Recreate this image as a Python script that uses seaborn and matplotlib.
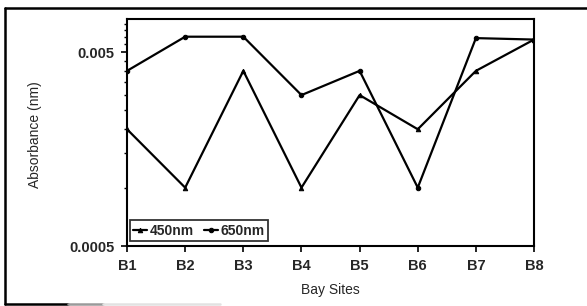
import matplotlib
matplotlib.use("Agg")
import matplotlib.pyplot as plt
import matplotlib.ticker as mticker
from matplotlib.lines import Line2D
import pandas as pd
import seaborn as sns

# values (log axis)
sites = ["B1", "B2", "B3", "B4", "B5", "B6", "B7", "B8"]
abs_450 = [0.0020, 0.0010, 0.0040, 0.0010, 0.0030, 0.0020, 0.0040, 0.0058]
abs_650 = [0.0040, 0.0060, 0.0060, 0.0030, 0.0040, 0.0010, 0.0059, 0.0058]
series_names = ["450nm", "650nm"]
y_major = [0.0005, 0.005]
y_major_labels = ["0.0005", "0.005"]

df = pd.DataFrame({
    "site": sites * 2,
    "pos": list(range(len(sites))) * 2,
    "absorbance": abs_450 + abs_650,
    "series": [series_names[0]] * len(sites) + [series_names[1]] * len(sites),
})

sns.set_style("white")
plt.rcParams["font.family"] = ["Liberation Sans", "DejaVu Sans"]

W, H = 587, 306
fig = plt.figure(figsize=(W / 100, H / 100), dpi=100)
ax = fig.add_axes([0.2164, 0.196, 0.6934, 0.7403])

sns.lineplot(data=df, x="pos", y="absorbance", hue="series", style="series",
             palette=["black", "black"], markers={"450nm": "^", "650nm": "o"},
             dashes=False, markersize=3.2, linewidth=1.6, ax=ax,
             markeredgecolor="black")

ax.set_yscale("log")
ax.set_ylim(0.0005, 0.00736)
ax.set_xlim(0, len(sites) - 1)
ax.yaxis.set_major_locator(mticker.FixedLocator(y_major))
ax.yaxis.set_major_formatter(mticker.FixedFormatter(y_major_labels))
ax.yaxis.set_minor_locator(mticker.FixedLocator([0.0005 * k for k in range(2, 15) if k != 10]))
ax.yaxis.set_minor_formatter(mticker.NullFormatter())
ax.set_xticks(range(len(sites)))
ax.set_xticklabels(sites)

for sp in ax.spines.values():
    sp.set_color("black")
    sp.set_linewidth(1.5)

ax.tick_params(axis="both", which="major", direction="out", length=4, width=1.2,
               color="black", labelsize=10.5, pad=5)
ax.tick_params(axis="y", which="minor", direction="out", length=2, width=1, color="black", left=True)
ax.tick_params(axis="x", bottom=True)
ax.tick_params(axis="y", left=True)
for lab in ax.get_xticklabels() + ax.get_yticklabels():
    lab.set_fontweight("bold")

ax.set_xlabel("Bay Sites", fontsize=10)
ax.set_ylabel("Absorbance (nm)", fontsize=10)
ax.xaxis.set_label_coords(0.5, -0.194)
ax.yaxis.set_label_coords(-0.226, 0.49)
ax.xaxis.label.set_va("center")
ax.yaxis.label.set_va("center")

leg = ax.legend(loc="lower left", bbox_to_anchor=(0.007, 0.022), borderaxespad=0,
                ncol=2, frameon=True, fancybox=False, handlelength=1.0,
                handletextpad=0.2, columnspacing=0.7, borderpad=0.25,
                prop={"size": 10, "weight": "bold"})
leg.get_frame().set_edgecolor("black")
leg.get_frame().set_linewidth(1.3)

# outer chart frame of the scan: left, top (runs off page), faded bottom
def px_line(x0, y0, x1, y1, color="black", lw=1.8):
    fig.add_artist(Line2D([x0 / W, x1 / W], [1 - y0 / H, 1 - y1 / H],
                          transform=fig.transFigure, color=color, linewidth=lw))

px_line(5, 8, W + 5, 8)
px_line(5, 8, 5, 304)
px_line(5, 304, 68, 304)
px_line(68, 304, 103, 304, color="#9a9a9a")
px_line(103, 304, 220, 304, color="#e2e2e2")

fig.savefig("out.png", dpi=100)
